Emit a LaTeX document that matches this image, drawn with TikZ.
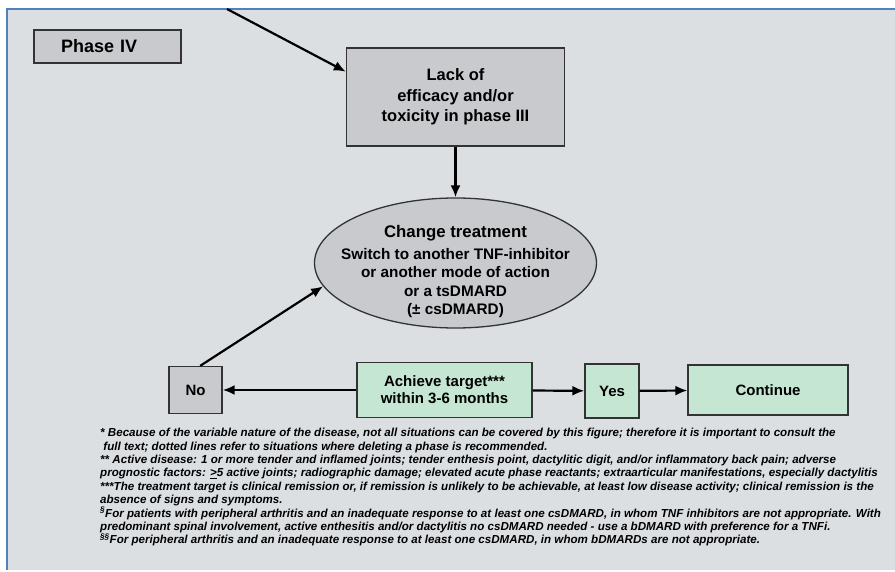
\documentclass[tikz,border=0pt]{standalone}
\usepackage{fontspec}
\setmainfont{Liberation Sans}
\usetikzlibrary{shapes.geometric,arrows.meta}
\definecolor{panel}{HTML}{DCDFE2}
\definecolor{boxgray}{HTML}{C8CACD}
\definecolor{boxgreen}{HTML}{C4E6D2}
\definecolor{frameblue}{HTML}{4F81BD}

\begin{document}
\begin{tikzpicture}[x=1pt,y=-1pt,
	graybox/.style={draw=black!80,line width=1.3pt,fill=boxgray,font=\bfseries\fontsize{15}{17}\selectfont,align=center,inner sep=0pt},
	greenbox/.style={graybox,fill=boxgreen},
	flow/.style={line width=2.2pt,-{Latex[length=12pt,width=10pt]}}]
	\clip (0,0) rectangle (895,572);
	\fill[white] (0,0) rectangle (895,572);
	\fill[panel] (7,9) rectangle (895,570);
	\draw[frameblue,line width=2pt] (7,570) -- (7,9) -- (895,9);
	% boxes
	\node[graybox,minimum height=33pt,text width=93pt,inner xsep=27pt,align=left,font=\bfseries\fontsize{18}{20}\selectfont] (phase) at (107.5,46.5) {Phase IV};
	\node[graybox,minimum width=218pt,minimum height=98pt,font=\bfseries\fontsize{16.5}{20.5}\selectfont] (lack) at (455.5,97) {Lack of\\efficacy and/or\\toxicity in phase III};
	\node[graybox,ellipse,minimum width=282pt,minimum height=130pt,font=\bfseries\fontsize{15.3}{18.3}\selectfont] (change) at (455.5,263) {\makebox[0pt]{\raisebox{-13pt}[0pt][0pt]{\begin{tabular}{@{}c@{}}
		{\fontsize{16.8}{20}\selectfont Change treatment}\\[3.7pt]
		Switch to another TNF-inhibitor\\
		or another mode of action\\
		or a tsDMARD\\
		(± csDMARD)
	\end{tabular}}}};
	\node[graybox,minimum width=53pt,minimum height=47pt] (no) at (195.5,390) {No};
	\node[greenbox,minimum width=175pt,minimum height=55pt] (achieve) at (444.5,390) {Achieve target***\\within 3-6 months};
	\node[greenbox,minimum width=54pt,minimum height=54pt] (yes) at (612,391) {Yes};
	\node[greenbox,minimum width=160pt,minimum height=50pt] (continue) at (768,390) {Continue};
	% connectors
	\coordinate (entry) at (227,9);
	\draw[flow] (entry) -- (lack.167);
	\draw[flow] (lack) -- (change);
	\draw[flow] (no.79) -- (change.190);
	\draw[flow] (achieve) -- (no);
	\draw[flow] (achieve) -- (yes);
	\draw[flow] (yes) -- (continue);
	% footnotes
	\node[anchor=north west,align=left,inner sep=0pt,font=\bfseries\itshape\fontsize{11.6}{13.4}\selectfont] (notes) at (100,428) {%
		* Because of the variable nature of the disease, not all situations can be covered by this figure; therefore it is important to consult the\\
		\ full text; dotted lines refer to situations where deleting a phase is recommended.\\
		** Active disease: 1 or more tender and inflamed joints; tender enthesis point, dactylitic digit, and/or inflammatory back pain; adverse\\
		prognostic factors: \underline{>}5 active joints; radiographic damage; elevated acute phase reactants; extraarticular manifestations, especially dactylitis\\
		***The treatment target is clinical remission or, if remission is unlikely to be achievable, at least low disease activity; clinical remission is the\\
		absence of signs and symptoms.\\
		\textsuperscript{\S}For patients with peripheral arthritis and an inadequate response to at least one csDMARD, in whom TNF inhibitors are not appropriate. With\\
		predominant spinal involvement, active enthesitis and/or dactylitis no csDMARD needed - use a bDMARD with preference for a TNFi.\\
		\textsuperscript{\S\S}For peripheral arthritis and an inadequate response to at least one csDMARD, in whom bDMARDs are not appropriate.};
\end{tikzpicture}
\end{document}
